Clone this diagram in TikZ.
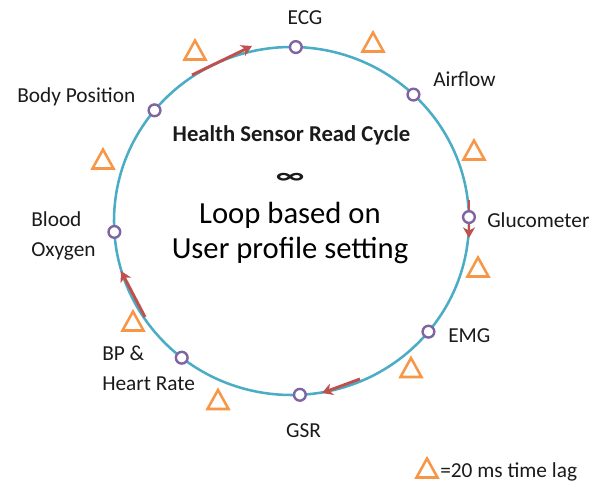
\documentclass[tikz,border=0pt]{standalone}
\usepackage{fontspec}
\setmainfont{Carlito}
\usetikzlibrary{arrows.meta,calc}
\definecolor{ringblue}{HTML}{4BACC6}
\definecolor{nodepurple}{HTML}{8064A2}
\definecolor{lagorange}{HTML}{F79646}
\definecolor{flowred}{HTML}{C0504D}
\definecolor{txt}{HTML}{1A1A1A}
\tikzset{
  ring/.style={draw=ringblue, line width=1.9pt},
  sensor/.style={circle, draw=nodepurple, fill=white, line width=1.8pt, minimum size=8.8pt, inner sep=0pt},
  flow/.style={draw=flowred, line width=2.2pt, -{Stealth[length=8pt,width=9pt,inset=2.5pt]}},
  lagline/.style={draw=lagorange, line width=1.9pt, line join=miter},
  lag/.pic={\draw[lagline] (-10.5,9.5) -- (0,-9.5) -- (10.5,9.5) -- cycle;},
  lbl/.style={inner sep=0pt, text=txt, font=\fontsize{16}{22.5}\selectfont},
}
\begin{document}
\begin{tikzpicture}[x=0.75pt,y=-0.75pt]
\useasboundingbox (0,0) rectangle (604,481);
\coordinate (c) at (291.5,221);
\draw[ring] (c) ellipse [x radius=177.5, y radius=174];
% arrows
\coordinate (a1s) at (192,75);   \coordinate (a1e) at (252,46);
\coordinate (a2s) at (469,200);  \coordinate (a2e) at (469,238);
\coordinate (a3s) at (360,379);  \coordinate (a3e) at (322,393);
\coordinate (a4s) at (145,317);  \coordinate (a4e) at (121,271);
\draw[flow] (a1s) -- (a1e);
\draw[flow] (a2s) -- (a2e);
\draw[flow] (a3s) -- (a3e);
\draw[flow] (a4s) -- (a4e);
% sensor nodes
\node[sensor] (ecg)  at ($(c)+(-88.6:177.5 and 174)$) {};
\node[sensor] (air)  at ($(c)+(-46.6:177.5 and 174)$) {};
\node[sensor] (glu)  at ($(c)+(-1.3:177.5 and 174)$) {};
\node[sensor] (emg)  at ($(c)+(39.5:177.5 and 174)$) {};
\node[sensor] (gsr)  at ($(c)+(87.3:177.5 and 174)$) {};
\node[sensor] (bp)   at ($(c)+(128.2:177.5 and 174)$) {};
\node[sensor] (box)  at ($(c)+(176.4:177.5 and 174)$) {};
\node[sensor] (body) at ($(c)+(-140.5:177.5 and 174)$) {};
% labels
\node[lbl, anchor=base] (tecg) at (305,25) {ECG};
\node[lbl, anchor=base west] (tair) at (433,87) {Airflow};
\node[lbl, anchor=base west] (tglu) at (487,228) {Glucometer};
\node[lbl, anchor=base west] (temg) at (448,343) {EMG};
\node[lbl, anchor=base] (tgsr) at (303.5,437) {GSR};
\node[lbl, anchor=base west, align=left] (tbp) at (102,390) {BP \&\\Heart Rate};
\node[lbl, anchor=base west, align=left] (tbox) at (31,257) {Blood\\Oxygen};
\node[lbl, anchor=base west] (tbody) at (17,103) {Body Position};
% centre text
\node[inner sep=0pt, anchor=base, text=txt, font=\fontsize{17}{20}\selectfont\bfseries] (title) at (291.5,142) {Health Sensor Read Cycle};
\node[inner sep=0pt, text=txt, font=\fontsize{17}{20}\selectfont\bfseries] (inf) at (290,178) {\scalebox{1.5}[1]{∞}};
\node[inner sep=0pt, anchor=base, text=black, align=center, font=\fontsize{23}{26}\selectfont] (loop) at (290,258.5) {Loop based on\\User profile setting};
% lag triangles
\pic at (195,50) {lag};
\pic at (373,42) {lag};
\pic at (474,150) {lag};
\pic at (478,267) {lag};
\pic at (411,367.5) {lag};
\pic at (218,399.5) {lag};
\pic at (133,321) {lag};
\pic at (103,159) {lag};
\pic at (427,468) {lag};
\node[lbl, anchor=base west] (tleg) at (440,477) {=20 ms time lag};
\end{tikzpicture}
\end{document}
